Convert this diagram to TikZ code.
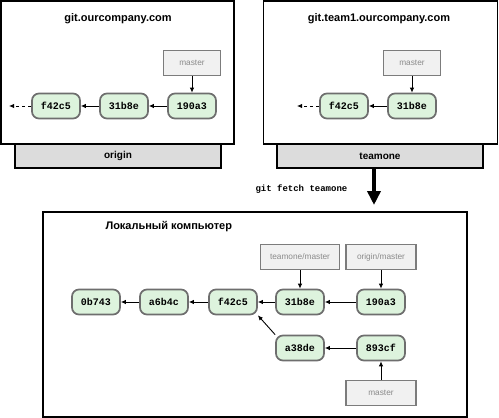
\documentclass[tikz,border=0pt]{standalone}
\usepackage{fontspec}
\setmainfont{Liberation Sans}
\setmonofont{Liberation Mono}
\usetikzlibrary{arrows.meta}

\definecolor{commitfill}{HTML}{DDF3DD}
\definecolor{commitline}{HTML}{6E6E6E}
\definecolor{reffill}{HTML}{F1F1F1}
\definecolor{refline}{HTML}{7C7C7C}
\definecolor{reftext}{HTML}{8A8A8A}
\definecolor{barfill}{HTML}{DCDCDC}

\begin{document}
\begin{tikzpicture}[x=1pt, y=-1pt, >={Latex[length=5pt,width=4.5pt]},
  commit/.style={draw=commitline, fill=commitfill, line width=1.7pt, rounded corners=7pt,
    minimum width=48pt, minimum height=25pt, inner sep=0pt,
    font=\ttfamily\bfseries\fontsize{10}{12}\selectfont},
  ref/.style={draw=refline, fill=reffill, line width=1.7pt, minimum height=25pt, inner sep=0pt,
    text=reftext, font=\fontsize{8.3}{10}\selectfont},
  host/.style={draw, line width=1.7pt, fill=white, inner sep=0pt},
  hostbar/.style={draw, line width=1.3pt, fill=barfill, minimum height=24pt, inner sep=0pt,
    font=\bfseries\fontsize{10}{12}\selectfont},
  title/.style={font=\bfseries\fontsize{11}{13}\selectfont},
  parent/.style={->, line width=0.9pt}]

  \useasboundingbox (0,0) rectangle (499,418);

  % origin server
  \node[hostbar, minimum width=206pt] (originbar) at (118,156) {origin};
  \node[host, minimum width=233pt, minimum height=143pt] (originhost) at (117.5,72.5) {};
  \node[title] (origintitle) at (118,19) {git.ourcompany.com};
  \node[ref, minimum width=57pt] (omaster) at (192,63) {master};
  \node[commit] (o190a3) at (192,106) {190a3};
  \node[commit] (o31b8e) at (124,106) {31b8e};
  \node[commit] (of42c5) at (56,106) {f42c5};
  \coordinate (oend) at (9,106);

  \path (omaster) edge[parent] (o190a3);
  \path (o190a3) edge[parent] (o31b8e);
  \path (o31b8e) edge[parent] (of42c5);
  \path (of42c5) edge[parent, dashed] (oend);

  % teamone server
  \node[hostbar, minimum width=206pt] (teambar) at (380,156) {teamone};
  \node[host, minimum width=234pt, minimum height=143pt] (teamhost) at (380.5,72.5) {};
  \node[title] (teamtitle) at (379,19) {git.team1.ourcompany.com};
  \node[ref, minimum width=57pt] (tmaster) at (412,63) {master};
  \node[commit] (t31b8e) at (412,106) {31b8e};
  \node[commit] (tf42c5) at (344,106) {f42c5};
  \coordinate (tend) at (297,106);

  \path (tmaster) edge[parent] (t31b8e);
  \path (t31b8e) edge[parent] (tf42c5);
  \path (tf42c5) edge[parent, dashed] (tend);

  % fetch
  \coordinate (fetchend) at (374,205);
  \draw[line width=3.5pt, -{Triangle[width=13pt,length=14pt]}] (teambar.south -| fetchend) -- (fetchend);
  \node[font=\ttfamily\bfseries\fontsize{9}{11}\selectfont, anchor=west] (fetchcmd) at (252,189) {git fetch teamone};

  % local computer
  \node[host, minimum width=424pt, minimum height=205pt] (localhost) at (255,314.5) {};
  \node[title, anchor=west] (localtitle) at (102,227) {Локальный компьютер};
  \node[ref, minimum width=79pt] (lteam) at (300,257) {teamone/master};
  \node[ref, minimum width=70pt] (lorigin) at (381,257) {origin/master};
  \node[ref, minimum width=70pt] (lmaster) at (381,393) {master};
  \node[commit] (l190a3) at (381,302) {190a3};
  \node[commit] (l31b8e) at (300,302) {31b8e};
  \node[commit] (lf42c5) at (233,302) {f42c5};
  \node[commit] (la6b4c) at (164,302) {a6b4c};
  \node[commit] (l0b743) at (96,302) {0b743};
  \node[commit] (l893cf) at (381,348) {893cf};
  \node[commit] (la38de) at (300,348) {a38de};

  \path (lteam) edge[parent] (l31b8e);
  \path (lorigin) edge[parent] (l190a3);
  \path (lmaster) edge[parent] (l893cf);
  \path (l190a3) edge[parent] (l31b8e);
  \path (l31b8e) edge[parent] (lf42c5);
  \path (lf42c5) edge[parent] (la6b4c);
  \path (la6b4c) edge[parent] (l0b743);
  \path (l893cf) edge[parent] (la38de);
  \path (la38de.north west) edge[parent] (lf42c5.south east);
\end{tikzpicture}
\end{document}
